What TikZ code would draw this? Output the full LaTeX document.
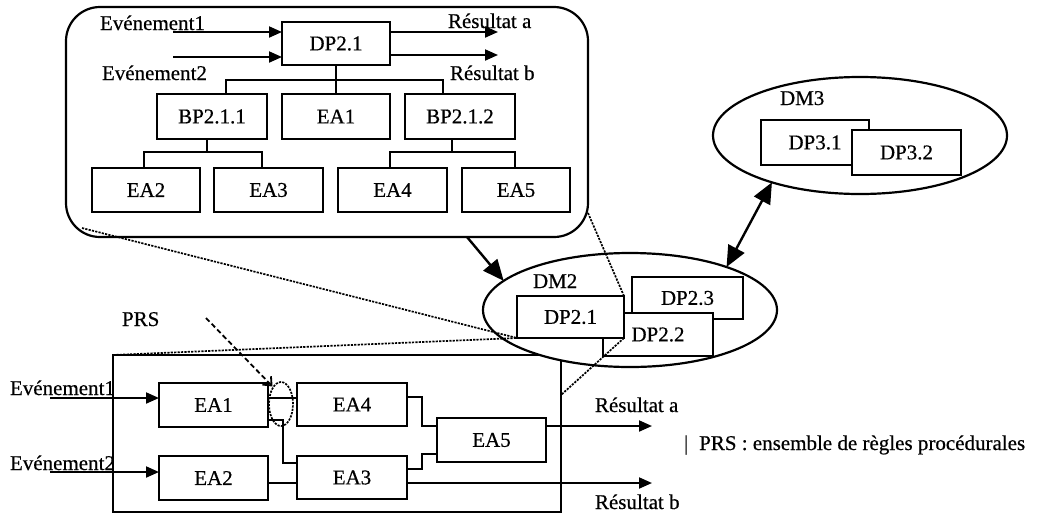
\documentclass[tikz,border=0pt]{standalone}
\usepackage{fontspec}
\setmainfont{Liberation Serif}[BoldFont=Liberation Serif, BoldFeatures={FakeBold=0.5}]
\usetikzlibrary{arrows.meta,shapes.geometric}
\begin{document}
\begin{tikzpicture}[x=1pt,y=-1pt,
  every node/.style={font=\fontsize{21}{24}\selectfont\bfseries, inner sep=0pt, outer sep=0pt},
  bx/.style={draw, fill=white, line width=2pt},
  sz/.style 2 args={minimum width=#1pt, minimum height=#2pt},
  ln/.style={line width=2pt},
  arr/.style={line width=2pt, -{Triangle[length=13pt,width=11pt]}},
  big/.style={line width=2.4pt, -{Triangle[length=21pt,width=18pt]}},
  dbl/.style={line width=2.4pt, {Triangle[length=21pt,width=18pt]}-{Triangle[length=21pt,width=18pt]}},
  dots/.style={line width=1.7pt, dash pattern=on 2.2pt off 1.2pt},
  lbl/.style={anchor=base west},
]
\useasboundingbox (0,0) rectangle (1039,515);

% ---------- top detail box ----------
\node[draw, line width=2.2pt, rounded corners=34pt, sz={522}{230}] (top) at (327,122) {};
\node[bx, sz={108}{43}] (dp21) at (336,43.5) {DP2.1};
\node[bx, sz={110}{45}] (bp211) at (212,116.5) {BP2.1.1};
\node[bx, sz={108}{45}] (ea1t) at (336,116.5) {EA1};
\node[bx, sz={110}{45}] (bp212) at (460,116.5) {BP2.1.2};
\node[bx, sz={108}{44}] (ea2t) at (146,190) {EA2};
\node[bx, sz={109}{44}] (ea3t) at (268.5,190) {EA3};
\node[bx, sz={109}{44}] (ea4t) at (392.5,190) {EA4};
\node[bx, sz={108}{44}] (ea5t) at (516,190) {EA5};

\node[lbl] (tev1) at (100,30) {Evénement1};
\node[lbl] (tev2) at (102,80) {Evénement2};
\node[lbl] (tra) at (448,28) {Résultat a};
\node[lbl] (trb) at (450,80) {Résultat b};

\coordinate (te1) at (173,32);
\coordinate (te2) at (173,57);
\coordinate (to1) at (498,32);
\coordinate (to2) at (498,55);
\draw[arr] (te1) -- (te1 -| dp21.west);
\draw[arr] (te2) -- (te2 -| dp21.west);
\draw[arr] (to1 -| dp21.east) -- (to1);
\draw[arr] (to2 -| dp21.east) -- (to2);

\draw[ln] (dp21.south) -- (ea1t.north);
\draw[ln] ([xshift=14pt]bp211.north) |- ([yshift=-15pt]dp21.south) -| ([xshift=-17pt]bp212.north);
\draw[ln] ([xshift=-2pt]ea2t.north) |- ([xshift=-5pt,yshift=-13pt]bp211.south) -| ([xshift=-6.5pt]ea3t.north);
\draw[ln] ([xshift=-5pt]bp211.south) -- ([xshift=-5pt,yshift=-13pt]bp211.south);
\draw[ln] ([xshift=-2.5pt]ea4t.north) |- ([xshift=-8pt,yshift=-13pt]bp212.south) -| ([xshift=-1pt]ea5t.north);
\draw[ln] ([xshift=-8pt]bp212.south) -- ([xshift=-8pt,yshift=-13pt]bp212.south);

% ---------- bottom detail box ----------
\node[lbl] (bev1) at (10,395) {Evénement1};
\node[lbl] (bev2) at (10,470) {Evénement2};
\node[draw, line width=2pt, sz={448}{157}] (bot) at (337,433.5) {};
\node[bx, sz={109}{44}] (ea1b) at (213.5,405) {EA1};
\node[bx, sz={109}{44}] (ea2b) at (213.5,478) {EA2};
\node[bx, sz={110}{43}] (ea4b) at (352,404.5) {EA4};
\node[bx, sz={110}{43}] (ea3b) at (352,477.5) {EA3};
\node[bx, sz={109}{44}] (ea5b) at (491.5,440) {EA5};

\coordinate (be1) at (50,398);
\coordinate (be2) at (50,472);
\draw[arr] (be1) -- (be1 -| ea1b.west);
\draw[arr] (be2) -- (be2 -| ea2b.west);

\draw[ln] ([yshift=7pt]ea1b.east) -- ([yshift=7pt]ea1b.east -| ea4b.west);
\draw[ln] ([yshift=-15pt]ea1b.east) -- ++(15,0) |- ([yshift=14.5pt]ea3b.west);
\draw[ln] ([yshift=-5pt]ea2b.east) -- ([yshift=-5pt]ea2b.east -| ea3b.west);
\draw[ln] ([yshift=7.5pt]ea4b.east) -- ++(15,0) |- ([yshift=14pt]ea5b.west);
\draw[ln] ([yshift=8.5pt]ea3b.east) -- ++(15,0) |- ([yshift=-14pt]ea5b.west);

\coordinate (bra) at (652,426);
\coordinate (brb) at (652,483);
\draw[arr] (bra -| ea5b.east) -- (bra);
\draw[arr] (brb -| ea3b.east) -- (brb);
\node[lbl] (bral) at (595,412) {Résultat a};
\node[lbl] (brbl) at (595,509) {Résultat b};

\node[lbl] (prs) at (122,326) {PRS};
\node[draw, ellipse, dots, sz={24}{44}] (prse) at (281,404) {};
\coordinate (prsa) at (206,318);
\draw[line width=1.8pt, dash pattern=on 5pt off 3pt, -{Straight Barb[length=7pt,width=12pt]}] (prsa) -- ([yshift=2pt]prse.north west);

\node[lbl] (leg) at (684,450) {|\hspace{11pt}PRS : ensemble de règles procédurales};

% ---------- DM2 ----------
\node[ellipse, draw, fill=white, line width=2.2pt, sz={294}{114}] (dm2) at (630,310) {};
\node[lbl] (dm2l) at (533,288) {DM2};
\node[bx, sz={111}{42}] (dp23) at (687.5,298) {DP2.3};
\node[bx, sz={110}{43}] (dp22) at (658,334.5) {DP2.2};
\node[bx, sz={107}{42}] (dp21m) at (570.5,317) {DP2.1};

% ---------- DM3 ----------
\node[ellipse, draw, fill=white, line width=2.2pt, sz={294}{117}] (dm3) at (860,135.5) {};
\node[lbl] (dm3l) at (780,105) {DM3};
\node[bx, sz={108}{45}] (dp31) at (815,142.5) {DP3.1};
\node[bx, sz={109}{45}] (dp32) at (906.5,152.5) {DP3.2};

% ---------- zoom lines ----------
\coordinate (tl) at (82,228);
\coordinate (tr) at (588,213);
\draw[dots] (tl) -- (dp21m.south west);
\draw[dots] (tr) -- (dp21m.north east);
\draw[dots] (bot.north west) -- (dp21m.south west);
\draw[dots] (dp21m.south east) -- ([yshift=38.5pt]bot.east);

% ---------- arrows between modules ----------
\draw[big] ([xshift=140pt]top.south) -- (dm2.167);
\draw[dbl] (dm3.208) -- (dm2.24);
\end{tikzpicture}
\end{document}
